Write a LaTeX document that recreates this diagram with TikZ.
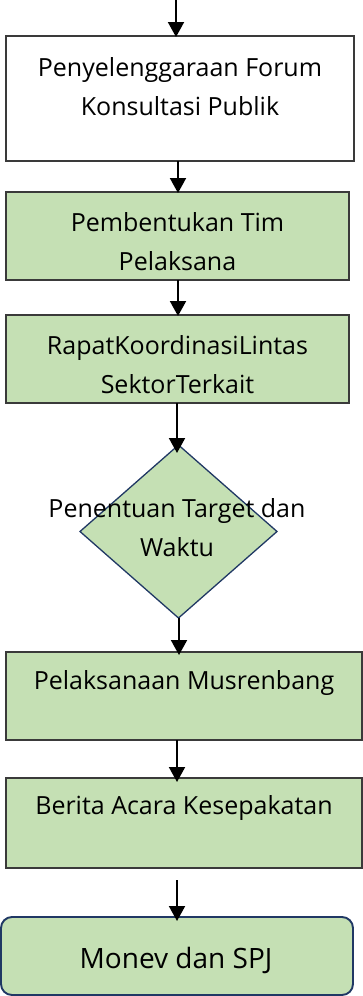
\documentclass[tikz,border=0pt]{standalone}
\usepackage{fontspec}
\setmainfont{Open Sans}
\usetikzlibrary{arrows.meta,shapes.geometric}
\definecolor{leaf}{HTML}{C5E0B4}
\definecolor{navy}{HTML}{203864}
\definecolor{edge}{HTML}{3A3A3A}
\tikzset{
  stepbox/.style={draw=edge, line width=1.2pt, fill=leaf, rectangle, inner sep=0pt, outer sep=0pt},
  plainbox/.style={stepbox, fill=white},
  choice/.style={draw=navy, line width=1.3pt, fill=leaf, diamond, inner sep=0pt, outer sep=0pt},
  endbox/.style={draw=navy, line width=1.9pt, fill=leaf, rectangle, rounded corners=11pt, inner sep=0pt, outer sep=0pt},
  lbl/.style={align=center, inner sep=0pt, font=\fontsize{25}{39}\selectfont},
  arr/.style={line width=2pt, -{Triangle[length=15pt,width=16pt]}},
}
\begin{document}
\begin{tikzpicture}[x=1pt,y=-1pt]
\useasboundingbox (0,0) rectangle (363,996);

% process boxes
\node[plainbox, minimum width=348, minimum height=125] (b1) at (180,98.5) {};
\node[lbl] (t1) at (180,87) {Penyelenggaraan Forum\\Konsultasi Publik};

\node[stepbox, minimum width=343, minimum height=88] (b2) at (177.5,236) {};
\node[lbl] (t2) at (177.5,242) {Pembentukan Tim\\Pelaksana};

\node[stepbox, minimum width=343, minimum height=88] (b3) at (177.5,359) {};
\node[lbl] (t3) at (177.5,365) {RapatKoordinasiLintas\\SektorTerkait};

% decision
\node[choice, minimum width=197, minimum height=173, aspect=1.14] (d4) at (178.5,531.5) {};
\node[lbl] (t4) at (177,527.5) {Penentuan Target dan\\Waktu};

\node[stepbox, minimum width=356, minimum height=88] (b5) at (184,696) {};
\node[lbl] (t5) at (184,683) {Pelaksanaan Musrenbang};

\node[stepbox, minimum width=356, minimum height=90] (b6) at (184,823) {};
\node[lbl] (t6) at (184,808) {Berita Acara Kesepakatan};

\node[endbox, minimum width=352, minimum height=78] (b7) at (177,956) {};
\node[lbl, font=\fontsize{28}{34}\selectfont] (t7) at (176,960) {Monev dan SPJ};

% connectors
\coordinate (start) at (176,0);
\draw[arr] (start) -- ([yshift=-1pt]start |- b1.north);
\draw[arr] (178,161) coordinate (s1) -- ([yshift=-1pt]s1 |- b2.north);
\draw[arr] (178,280) coordinate (s2) -- ([yshift=-1pt]s2 |- b3.north);
\draw[arr] (177,403) coordinate (s3) -- ([yshift=-8pt]s3 |- d4.north);
\draw[arr] (179,618) coordinate (s4) -- ([yshift=-3pt]s4 |- b5.north);
\draw[arr] (177,740) coordinate (s5) -- ([yshift=-4pt]s5 |- b6.north);
\draw[arr] (177,880) coordinate (s6) -- ([yshift=-4pt]s6 |- b7.north);
\end{tikzpicture}
\end{document}
